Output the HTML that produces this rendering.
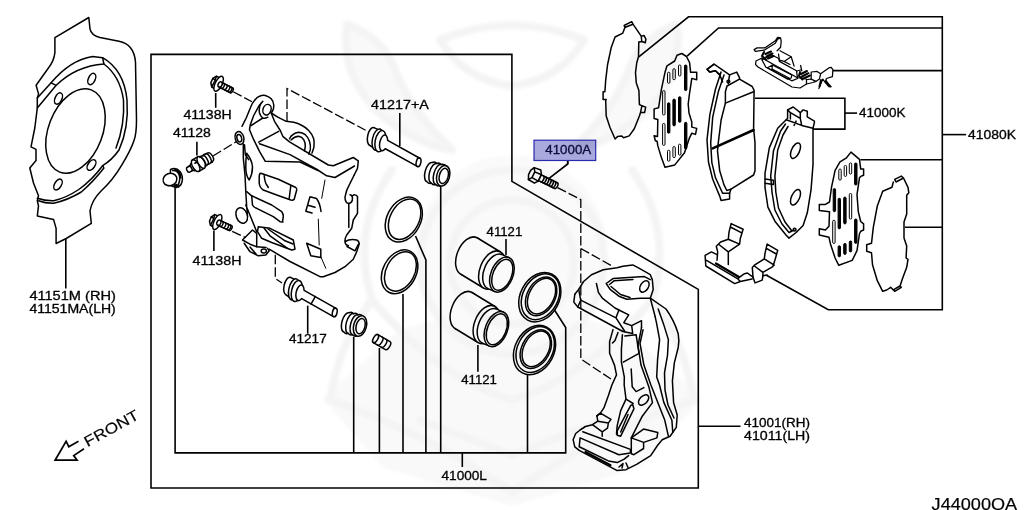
<!DOCTYPE html>
<html>
<head>
<meta charset="utf-8">
<title>Front Brake Caliper Diagram</title>
<style>
html,body{margin:0;padding:0;background:#fff;}
body{width:1024px;height:510px;overflow:hidden;position:relative;}
svg{position:absolute;left:0;top:0;display:block;}
.l{fill:none;stroke:#000;stroke-width:1.6;stroke-linecap:butt;stroke-linejoin:miter;}
.p{fill:none;stroke:#000;stroke-width:1.5;stroke-linecap:round;stroke-linejoin:round;}
.pw{fill:#fff;stroke:#000;stroke-width:1.5;stroke-linecap:round;stroke-linejoin:round;}
.d{fill:none;stroke:#000;stroke-width:1.3;stroke-dasharray:9.5 3;}
.k{fill:none;stroke:#000;stroke-width:2.2;stroke-linecap:butt;}
.k1{fill:none;stroke:#000;stroke-width:1.3;stroke-linecap:butt;}
text{font-family:"Liberation Sans",sans-serif;font-size:12px;fill:#000;stroke:#000;stroke-width:0.3;}
</style>
</head>
<body>
<svg width="1024" height="510" viewBox="0 0 1024 510">
<rect x="0" y="0" width="1024" height="510" fill="#fff"/>

<!-- frame lines -->
<g id="frames" class="l">
<path d="M151 54.4 H511.9 V181.4 L698.3 289.4 V488 H151 Z"/>
<path d="M175.1 186 V452.9 H565.7 V327.5 L553.7 308.7"/>
<path d="M462.3 452.9 V467"/>
<path d="M698.3 426.2 H740.5"/>
<!-- pad kit bracket -->
<path d="M638.8 56.8 L688.5 16.8 H942.3 V309.7 H828.3 L766.5 275.2"/>
<path d="M687.1 56.2 L718.5 28 H942.3"/>
<path d="M832.9 70.6 H942.3"/>
<path d="M860.4 159.7 H942.3"/>
<path d="M904.9 227.3 H942.3"/>
<path d="M942.3 134.6 H966.1"/>
<path d="M755 98.2 H844.9 V129.1 H813"/>
<path d="M844.9 113.1 H857.1"/>
<!-- leaders -->
<path d="M65.8 238.5 V288.4"/>
<path d="M215.7 93 V107.8"/>
<path d="M196.9 141.7 V155.4"/>
<path d="M213.9 230.5 V250.9"/>
<path d="M399.8 113 V146"/>
<path d="M307.7 305.7 V333.6"/>
<path d="M506 239 V255"/>
<path d="M477.9 345 V371.8"/>
<path d="M567.7 157.2 V164 L549.4 178.1"/>
<path d="M440.7 186 V452.9"/>
<path d="M415.5 236 L425.9 260 V452.9"/>
<path d="M403 294 V452.9"/>
<path d="M353.7 337 V452.9"/>
<path d="M379.4 348 V452.9"/>
<path d="M527.5 375 V452.9"/>
</g>
<!-- backing plate 41151M -->
<g id="plate" class="p">
<path d="M88.8 17.5 L54.9 37.6 V52.7 Q54 61 48.6 67.7 L36.1 85.3 L38.6 94.1 L37.3 97.9 V107.9 L34.8 128 L31 146.8 L36 149.3 V160.6 L29.8 168 L33.5 183 L38.5 195.8 L37.3 200.8 L38.5 205.8 L37.3 215.9 L53.6 219.6 L56.1 228.4 V243.5 L66.2 238.5 L91.3 223.4 L90 210.8 Q92 200 101.3 190.8 Q113 180 121.4 165.7 Q131 150 134 140.6 Q136.5 134 136.5 120 L135.5 62 Q134 44 119 41.2 L100 37.5 Q91 35 90 28.8 Z"/>
<path d="M37.3 97.9 L51.1 82.8 Q70 60 92.6 56.4 L102.6 57.7 Q124 70 127 100 Q129 128 119 150 Q112 160 102.6 165.7 Q92 180 78.8 189.5 Q66 198 53.6 200.8 Q45 201 37.3 198.3"/>
<path d="M37.3 107.9 L56.2 85.3 Q76 66 103.9 64 L102.6 57.7 M51.1 82.8 L56.2 85.3"/>
<path d="M103.9 64 Q120 76 123.5 100 Q125 125 116 148"/>
<path d="M103.9 168 Q93 182 81.3 192 Q68 200 53.6 203.3 Q45 203.5 38.6 200.8 M102.6 165.7 L103.9 168"/>
<ellipse cx="75.5" cy="131" rx="27" ry="44" transform="rotate(21 75.5 131)"/>
<ellipse cx="91.8" cy="79" rx="3.4" ry="6" transform="rotate(25 91.8 79)"/>
<ellipse cx="58.5" cy="98.5" rx="3.4" ry="6" transform="rotate(25 58.5 98.5)"/>
<ellipse cx="91.5" cy="165" rx="3.4" ry="6" transform="rotate(35 91.5 165)"/>
<ellipse cx="58" cy="184.5" rx="3.4" ry="6" transform="rotate(30 58 184.5)"/>
</g>
<!-- bolts 41138H -->
<defs>
<g id="bolt">
<path class="pw" d="M-1 -6 L-5.5 -5.6 L-7.6 -2.2 L-7.4 2.6 L-4.8 5.8 L-1 6.4 Z"/>
<path class="p" d="M-5.5 -5.6 L-4.6 -1.6 L-4.8 5.8 M-7.6 -2.2 L-4.6 -1.6"/>
<ellipse class="pw" cx="0" cy="0" rx="3.4" ry="8.2"/>
<path class="pw" d="M1.2 -2.7 L14.5 -2.7 A1.4 2.7 0 0 1 14.5 2.7 L1.2 2.7 A1.4 2.7 0 0 1 1.2 -2.7Z"/>
<path class="p" d="M4.6 -2.7 A1.4 2.7 0 0 1 4.6 2.7 M7.6 -2.7 A1.4 2.7 0 0 1 7.6 2.7 M10.6 -2.7 A1.4 2.7 0 0 1 10.6 2.7 M13 -2.7 A1.4 2.7 0 0 1 13 2.7 M2.2 -2.7 A1.4 2.7 0 0 1 2.2 2.7"/>
</g>
</defs>
<use href="#bolt" transform="translate(218.6 83.8) rotate(27)"/>
<use href="#bolt" transform="translate(217.3 222) rotate(25)"/>
<!-- bleeder screw 41128 -->
<g transform="translate(189.6 169.1) rotate(-30)">
<path class="pw" d="M-1.5 -2.7 H4 V2.7 H-1.5 A1.4 2.7 0 0 1 -1.5 -2.7Z"/>
<path class="p" d="M1 -2.7 A1.4 2.7 0 0 1 1 2.7"/>
<path class="pw" d="M4 -4 H6.5 V4 H4 A1.8 4 0 0 1 4 -4Z"/>
<path class="pw" d="M7 -6.6 H13.5 V6.6 H7 A3.2 6.6 0 0 1 7 -6.6Z"/>
<path class="p" d="M7 -6.6 A3.2 6.6 0 0 1 7 6.6 M7.5 -2.4 H13.5 M9.5 3.2 H13.5"/>
<ellipse class="pw" cx="13.5" cy="0" rx="3.2" ry="6.6"/>
<path class="pw" d="M14.8 -5 Q16.5 -6 18 -5 Q19.8 -6 21.4 -5 Q23 -5.8 24.3 -4.6 A2 4.6 0 0 1 24.3 4.6 Q23 5.8 21.4 5 Q19.8 6 18 5 Q16.5 6 14.8 5 A2.2 5 0 0 0 14.8 -5Z"/>
<path class="p" d="M18 -5 A2.2 5 0 0 1 18 5 M21.4 -5 A2.2 5 0 0 1 21.4 5"/>
</g>
<!-- cap -->
<g class="p">
<path class="pw" d="M170.5 169.5 Q176 167 180 171.5 Q183.5 176 182 182 Q180.5 187.5 175 187 Q171 186.5 170 184Z"/>
<path d="M172.5 170.5 Q178 170 179.5 176 Q180.5 182 177 186.5 M174.5 169 Q180.5 171 181 178"/>
<ellipse class="pw" cx="170" cy="179.5" rx="7" ry="6.2" transform="rotate(-20 170 179.5)"/>
<path d="M176 184.5 L178.5 186.8 M174.5 185.5 L176.5 187.3" style="stroke-width:1.8"/>
</g>
<!-- dashed guides -->
<g class="d">
<path d="M233.2 91.7 L252 101.8"/>
<path d="M213 156 L236.2 141.7"/>
<path d="M232.2 231.3 L245.6 237.5"/>
<path d="M275.3 254.8 V278.5 L282 283"/>
<path d="M287 121.5 V88.5 L368 131.5"/>
<path d="M557.5 187.6 L580.8 199.6 V359 L611 379 M580.8 248.5 L613.5 266.8"/>
</g>
<!-- caliper body -->
<g id="caliper" class="p">
<path d="M242 126.3 L246.2 118 L250.3 108 Q252 103 254.5 100.5 Q257 97 259.5 96.3 Q262.5 95 265.3 95.5 Q269 96.5 271.2 98.8 Q273.5 101.5 273.7 104.7 Q274 108 272.8 110.5 L271.2 113 L277.8 117.2 L286.2 121.3 L293.7 122.2 Q298 123 302 125.5 Q306 127.5 308.7 130.5 Q312.5 134.5 313.7 138.8 Q314.5 143 313.7 148 L312 153"/>
<path d="M262.8 101.3 L258.7 106.3 L253.7 115.5 L250.3 124.7 L249.5 129.7 L253.7 139.7 L259.5 151.3 L265.3 161.3 L300 162 L318 170.5"/>
<ellipse cx="267" cy="109.7" rx="4" ry="5.4" transform="rotate(20 267 109.7)"/>
<path d="M260.8 103.5 Q258.6 108 259.5 113 Q260.5 116.5 262.8 118 Q265 118.8 267.8 117.2 M262.8 118 L251.2 125.5"/>
<path d="M271.2 113 L274.5 121.3 L280.3 130.5 L282.8 136.3 L289.5 141.8 L328.3 165 L333.3 165.8 L353.3 157.5 L358.3 160.8 L357.5 168.3 L354.2 175"/>
<path d="M258.7 142.2 L278.7 131.3"/>
<path d="M259.5 143.8 L290 154.6 L317 169.5 L326.7 175.8 L335 177.5 L354.5 166"/>
<path d="M289.5 138.8 Q291 135.5 292.8 134.7 Q295.5 132.5 298.7 132.2 Q302.5 132.5 305.3 134.7 Q308.5 137.5 309.5 141.3 Q310.8 145.5 310.3 149.7 L308.7 154"/>
<path d="M291 140 Q294.5 136.5 298.7 136.3 Q302 137 303.7 139.7 Q305.5 143 305.3 146.3 L304.5 151"/>
<path d="M354.2 175 L350 183.3 Q346 190 345 197 Q345 203 348.5 203.5 Q352.5 203 352.5 198 Q352 194.8 350 194.8 M352.3 196 Q355 193.5 357.5 196.5 V213.3 L353.3 220 L351.7 228.3 L346.7 235 Q344.5 239 345 242 Q345.5 245.5 348.5 245.8 M345.3 241.5 Q350 238.5 356.7 240 Q359.5 241.5 359.2 244 L356.7 251.7 L353.3 259.2 L345 266.7 L335 272.5 L323.3 276.7 L320 276.7 L290 261.5 L269.2 249.2"/>
<path d="M348.8 203.5 V227.5 M347 246.5 L355 250.8 L358.5 244"/>
<path d="M325 180 L321.7 198.3 M318.3 219.2 L319.2 245 M320.8 256.7 L325.8 268.3" style="stroke-width:1"/>
<path d="M310 196.7 L316.5 198.5 Q320 203 321 211.5 M310 196.7 L305.8 211.3 L312 213 M308 205.3 L315 207.2"/>
<path d="M306.7 243.3 L320.8 249.2 V257.5 L310.8 255.8 Z"/>
<ellipse class="pw" cx="239.5" cy="138" rx="4.3" ry="6.5" transform="rotate(-15 239.5 138)"/>
<ellipse cx="239.3" cy="138.2" rx="2.3" ry="3.8" transform="rotate(-15 239.3 138.2)"/>
<path d="M243.3 144 L243.3 158 L245 175 L245.8 191.7 L246.7 206.7 L247.5 216.7 M245.8 205 L256.7 231.7"/>
<path d="M244.5 144.7 L245.3 154.7 L248.7 159.7"/>
<path d="M246.7 153.3 Q252 160 252.5 167 Q252.5 174 249.2 180 Q246 176 245.8 168 Q245.5 160 246.7 153.3Z"/>
<path d="M260.8 173.3 L278.3 179.2 L295.8 187.5 Q297 188.5 296.7 190 L294.2 199.2 Q293 200.5 290.8 200 L276.7 195 L263.3 190 Q259.5 187.5 259.2 183.3 V176.7 Q259.3 173.3 260.8 173.3Z"/>
<path d="M264.2 175.8 Q264.5 180 265.8 183.3 L268.3 187.5 M290.8 185.8 L289.2 198.3"/>
<path d="M246.7 191.7 L251.7 195.8 L271.7 205 L281.7 211.7 Q283.5 214 283.3 216.7 L282.5 221.7 M251.7 196 L252.5 205 Q253.5 207.5 256.7 208.3 L273.3 216.7 L280 221.7 L283 222"/>
<path d="M258.3 226.7 L270 228.3 L293.3 240 L295 249.2 L291.7 250 L271.7 242.5 L261.7 238.3 L257.5 231.7 Z"/>
<path d="M264 228 L270 235.8 L287.5 248.3 M268 229 L285 240.8 L293 244"/>
<ellipse class="pw" cx="241.7" cy="215.5" rx="5.5" ry="8" transform="rotate(-20 241.7 215.5)"/>
<path d="M242.5 240 L252.5 230 L256.7 233.3 V246.7 L250 244.2 Z"/>
<path d="M244.2 243.3 L250 251.7 L258.3 255.8 L265.8 255 L269.2 250.8 L267.5 248.3 M250 247 L256 254 M256.7 246.7 L266 247.5"/>
<ellipse cx="263.8" cy="251" rx="2.6" ry="2"/>
</g>
<!-- slide pins -->
<defs>
<g id="pin">
<ellipse class="pw" cx="-10" cy="0" rx="4" ry="9" transform="rotate(-17 -10 0)"/>
<path d="M-12.2 -8.7 L-4.5 -9.2 L-0.5 9.3 L-7.8 8.7Z" fill="#fff" stroke="none"/>
<path class="p" d="M-12.2 -8.7 L-5 -9.2 M-7.8 8.7 L-1.5 9.4"/>
<ellipse class="pw" cx="-3.2" cy="0" rx="5.2" ry="10.8" transform="rotate(-17 -3.2 0)"/>
<ellipse class="pw" cx="0" cy="0" rx="5.2" ry="10.8" transform="rotate(-17 0 0)"/>
<ellipse class="pw" cx="3.6" cy="0" rx="3.8" ry="8" transform="rotate(-17 3.6 0)"/>
<path d="M4.5 -4.2 L42.7 -4.2 L44.5 4.2 L6 4.2Z" fill="#fff" stroke="none"/>
<ellipse class="pw" cx="43.6" cy="0" rx="2.3" ry="4.4" transform="rotate(-17 43.6 0)"/>
<path class="p" d="M6 -4.2 L42.7 -4.2 M8 4.2 L44.5 4.2"/>
</g>
<g id="boot">
<path class="pw" d="M-14 -10 Q-11.5 -12 -9.5 -10.2 Q-7 -12 -5 -10.3 Q-2.5 -11.8 0 -10.5 L0 10.5 Q-2.5 11.8 -5 10.3 Q-7 12 -9.5 10.2 Q-11.5 12 -14 10 A4.6 10 0 0 1 -14 -10Z"/>
<path class="p" d="M-9.5 -10.2 A4.6 10.2 0 0 0 -9.5 10.2 M-5 -10.3 A4.6 10.3 0 0 0 -5 10.3"/>
<ellipse class="pw" cx="0" cy="0" rx="6.4" ry="10.5"/>
<ellipse class="p" cx="0.6" cy="0" rx="4.4" ry="7.8"/>
</g>
</defs>
<use href="#pin" transform="translate(380.4 141.2) rotate(29)"/>
<use href="#pin" transform="translate(296.8 291) rotate(29.5)"/>
<path class="p" d="M0 -4.4 V4.4" transform="translate(313.2 300.3) rotate(29.5)"/>
<use href="#boot" transform="translate(443.2 175.8) rotate(15)"/>
<use href="#boot" transform="translate(360 326) rotate(15)"/>
<!-- bushing -->
<g transform="translate(375.6 338.6) rotate(30)">
<path class="pw" d="M0 -4.6 H14 A2.2 4.6 0 0 1 14 4.6 H0 A2.2 4.6 0 0 1 0 -4.6Z"/>
<path class="p" d="M0 -4.6 A2.2 4.6 0 0 1 0 4.6 M5 -4.6 A2.2 4.6 0 0 1 5 4.6 M9.5 -4.6 A2.2 4.6 0 0 1 9.5 4.6"/>
</g>
<!-- rings -->
<g class="p">
<ellipse cx="403.8" cy="219.6" rx="23.8" ry="16.8" transform="rotate(-62 403.8 219.6)"/>
<ellipse cx="404.6" cy="219.2" rx="21.6" ry="14.4" transform="rotate(-62 404.6 219.2)"/>
<ellipse cx="399.6" cy="271.8" rx="23.2" ry="16.6" transform="rotate(-62 399.6 271.8)"/>
<ellipse cx="400.4" cy="271.4" rx="21" ry="14.2" transform="rotate(-62 400.4 271.4)"/>
</g>
<!-- pistons -->
<g id="pistons">
<ellipse class="pw" cx="469.0" cy="256.0" rx="12" ry="20" transform="rotate(22 469.0 256.0)"/>
<path d="M477.5 238.0 L500.5 252.0 L483.5 288.0 L460.5 274.0Z" fill="#fff" stroke="none"/>
<path class="p" d="M477.5 238.0 L500.5 252.0 M460.5 274.0 L483.5 288.0"/>
<ellipse class="pw" cx="492.0" cy="270.0" rx="12" ry="20" transform="rotate(22 492.0 270.0)"/>
<ellipse class="pw" cx="495.0" cy="271.6" rx="11" ry="18.4" transform="rotate(22 495.0 271.6)"/>
<path d="M502.1 254.6 L509.0 257.6 L494.8 291.6 L487.9 288.6Z" fill="#fff" stroke="none"/>
<path class="p" d="M502.1 254.6 L509.0 257.6 M487.9 288.6 L494.8 291.6"/>
<ellipse class="pw" cx="501.9" cy="274.6" rx="11" ry="18.4" transform="rotate(22 501.9 274.6)"/>
<ellipse class="p" cx="502.3" cy="274.8" rx="9.3" ry="16.3" transform="rotate(22 502.3 274.8)"/>
<ellipse class="pw" cx="463.5" cy="310.5" rx="12" ry="20" transform="rotate(22 463.5 310.5)"/>
<path d="M472.0 292.5 L495.0 306.5 L478.0 342.5 L455.0 328.5Z" fill="#fff" stroke="none"/>
<path class="p" d="M472.0 292.5 L495.0 306.5 M455.0 328.5 L478.0 342.5"/>
<ellipse class="pw" cx="486.5" cy="324.5" rx="12" ry="20" transform="rotate(22 486.5 324.5)"/>
<ellipse class="pw" cx="489.5" cy="326.1" rx="11" ry="18.4" transform="rotate(22 489.5 326.1)"/>
<path d="M496.6 309.1 L503.5 312.1 L489.3 346.1 L482.4 343.1Z" fill="#fff" stroke="none"/>
<path class="p" d="M496.6 309.1 L503.5 312.1 M482.4 343.1 L489.3 346.1"/>
<ellipse class="pw" cx="496.4" cy="329.1" rx="11" ry="18.4" transform="rotate(22 496.4 329.1)"/>
<ellipse class="p" cx="496.8" cy="329.3" rx="9.3" ry="16.3" transform="rotate(22 496.8 329.3)"/>
</g>

<!-- seals -->
<g id="seals">
<ellipse class="pw" cx="539.8" cy="297.2" rx="26" ry="19.5" transform="rotate(-62 539.8 297.2)"/>
<ellipse class="p" cx="540.5" cy="296.7" rx="24.2" ry="17.6" transform="rotate(-62 540.5 296.7)"/>
<ellipse class="p" cx="541.1" cy="296.4" rx="20.6" ry="14" transform="rotate(-62 541.1 296.4)"/>
<ellipse class="p" cx="541.5" cy="296.1" rx="19" ry="12.4" transform="rotate(-62 541.5 296.1)"/>
<ellipse class="pw" cx="534.5" cy="350.0" rx="26" ry="19.5" transform="rotate(-62 534.5 350.0)"/>
<ellipse class="p" cx="535.2" cy="349.5" rx="24.2" ry="17.6" transform="rotate(-62 535.2 349.5)"/>
<ellipse class="p" cx="535.8" cy="349.2" rx="20.6" ry="14" transform="rotate(-62 535.8 349.2)"/>
<ellipse class="p" cx="536.2" cy="348.9" rx="19" ry="12.4" transform="rotate(-62 536.2 348.9)"/>
</g>
<!-- bolt 41000A -->
<g transform="translate(536.7 176.2) rotate(26)">
<path class="pw" d="M-6 -6.6 L1 -7.3 L3.6 -3.4 L3.6 3.8 L1 7.3 L-6 6.6 L-8 2.2 L-8 -2.6Z"/>
<path class="p" d="M-6 -6.6 L-3.6 -3 L-3.6 3.4 L-6 6.6 M-3.6 -3 L3.6 -3.4 M-3.6 3.4 L3.6 3.8"/>
<path class="pw" d="M3.6 -3.2 L21.5 -3.2 A1.6 3.2 0 0 1 21.5 3.2 L3.6 3.2Z"/>
<path class="p" style="stroke-width:1.6" d="M6 -3.2 A1.6 3.2 0 0 1 6 3.2 M8.6 -3.2 A1.6 3.2 0 0 1 8.6 3.2 M11.2 -3.2 A1.6 3.2 0 0 1 11.2 3.2 M13.8 -3.2 A1.6 3.2 0 0 1 13.8 3.2 M16.4 -3.2 A1.6 3.2 0 0 1 16.4 3.2 M19 -3.2 A1.6 3.2 0 0 1 19 3.2"/>
</g>
<!-- torque member / bracket -->
<g id="bracket" class="p">
<path d="M574.8 294.3 L578.7 289.4 L583.6 281.5 L591.5 274.7 L603.3 269.8 L617 267.8 L622.9 266.2 L632.7 264.9 L638.5 267.8 L650.3 274.7 L652.3 279.6 L653.2 289.4 L650.3 298.2 L666 309 Q674 320 678.2 333.7 Q679.5 341 678.2 347.5 L674.3 363.1 L672.4 380.8 L673.6 402.6 L677.2 415 L676.3 427.4 L670.1 436.2 L662.2 439.7 L657.8 445 L650.7 455.6 L636.6 464.4 L626 469.7 L617.2 470.6 L579.2 450.3 L574.8 446.8 L573.1 439.7 L575.7 433.5 L580.1 430 L585.4 426.5 L592.5 424.7 L597.8 421.2 L596.9 415.9"/>
<path d="M574.8 294.3 L573.8 302.1 L577.8 307 L622.9 331.5 L632.7 333.5 L631.7 325.6 L641.5 320.7 L641.5 327.6"/>
<path d="M578.7 289.4 L580.7 300.2 L577.8 307 M580.7 300.2 L616 317.8 L624.8 331.5 M616 317.8 L618.9 310 L628.7 314.9 L623.8 322.7 L631.7 325.6"/>
<path d="M596.4 283.5 L598.4 292.3 L602.3 298.2 L615 308 L618.9 310"/>
<path d="M606.2 283.5 L613 278.6 L628.7 277.6 L644.4 276.6 L650.3 279.6 M606.2 283.5 L610.1 289.4 L618.9 296.2 L626.8 299.2 L640.5 298.2 L650.3 298.2"/>
<path d="M609.5 284.5 L614 280.8 L633 279.6 M611 286.5 L620.5 294.5 L630 297.5"/>
<ellipse cx="644.4" cy="286.4" rx="4" ry="6.3" transform="rotate(32 644.4 286.4)"/>
<path d="M613 329.6 L609.6 341.6 L609.6 353.3 L614.5 365.1 L616.5 374.9 L611.9 385 L608.4 395.6 L603.9 407.9 L600.4 413.2 L596.9 415.9"/>
<path d="M618 332.5 L615 340.4 L612.5 343 M622.4 334.7 L621.4 349.4 L621.4 362.2 L624.3 376.9 L624.2 385 L626 399.1 L620.7 410.6 L617.2 425.6 L616.5 434"/>
<path d="M624.8 336 L636.1 334.7 L639 353.3 L623.3 362.2 M631.2 369 L632.2 386.7 L636.1 391.6 L643.9 387.6"/>
<path d="M643 329.8 L640 343.5 L643.9 365.1 L650.8 384.7 L657.8 402.6 L664.8 420.3 L668.4 436.2"/>
<path d="M641.5 327.6 L638 345.5 L641 365.1 L648.8 386.7 L652.5 402.6 L641.9 416.8 L634.8 430.9 L631.3 437.9"/>
<path d="M655.2 316.8 L656.7 323.9 L659.6 339.6 L657.6 359.2 L656.7 376.9 L659.5 385 L663.9 402.6 L671.9 420.3 L672.8 432.6"/>
<path d="M658.2 309 L663.5 323.9 L668.4 339.6 L667.5 355.3 L664.5 372.9 L665 390 L668 405 L674 418"/>
<path d="M650.3 298.2 L655.2 316.8 M626 399.1 L633.1 403.5"/>
<ellipse cx="643.6" cy="400" rx="6.2" ry="3.8" transform="rotate(-45 643.6 400)"/>
<path d="M630.8 405.3 L632.8 404.8 L633.9 408.8 L620.7 436.2 L617.2 435.3 L617.2 430.9 L626 414.1 Z"/>
<path d="M628 414.5 L620.7 432"/>
<path d="M596.9 415.9 L600.4 413.2 L611 419.4 L608.4 422.9 L597.8 421.2 M608.4 422.9 L607.5 428.2 L602.2 431.8 L592.5 424.7 M602.2 431.8 V436.2"/>
<path d="M582.8 431.8 L630.4 449.4 V452.9 L618.9 454.7 L580.1 437.9 M579.2 446.8 L608.4 460.9 L617.2 462.6 L624.2 459.1 L628.6 455.6 M580.1 437.9 L579.2 446.8"/>
<path d="M585.5 452 L610.5 465.3" style="stroke-width:2.2"/>
<path d="M631.3 437.9 L643.6 442.4 V448.5 L633.9 454.7 L631.3 453.8 Z M631.3 437.9 L643.6 429.1 L657.8 432.6 L656.9 437.9 L643.6 442.4"/>
<path d="M619 467 L623 463.5 L622 468 M626 463 L628 467.5"/>
</g>
<!-- shim 1 -->
<g id="shims" class="p">
<path d="M624.1 25.5 L631.7 21.7 L633 24.2 L625.3 27.3 Z M625 27.3 L622.8 33.1 L615.1 37 L611.3 47.2 L607.5 65 L605.7 80.3 L604.9 91.8 L603.1 91.8 V99.5 H606.2 L605.7 100.7 L606.2 116 L610 127.5 L615.1 139 L617.7 136.4 L621.5 135.9 L623.6 137.7 L629.2 135.9 L634.3 128.8 L639.4 116 L640.6 112.2 L644.6 112.6 L645.7 107.1 L641.9 105.8 L640.6 112.2 M641.9 105.8 L639.4 104.6 L638.9 90.5 L636.3 82.9 L635.5 72.7 L636.8 62.5 L638.5 56.8 L638.8 42.1 L641.8 41.5 L645.3 42.7 L645.9 39.2 L644.1 35.6 L641.2 36.2 L641.8 41.5 M641.2 36.2 L633 24.2"/>
<!-- shim 2 -->
<path class="pw" d="M681.8 53.5 L686.5 56.5 L689.6 62.6 L690.6 72.3 H696.7 V79.7 L691.8 78.4 L689.4 94.3 L688.2 104 L689 113 L691.8 122 V127.1 L696.7 128.4 L695.5 134.4 L691.8 133.2 L689.4 138.1 L684.5 152.7 L674.8 164.9 L665 167.3 L661.4 157.6 L657.7 145.4 L657.2 141.5 L655.3 140.5 L654.1 135.7 L657.5 136.5 L657.8 119.5 L654.1 118.6 V108.9 L658.6 107.7 L661.4 89.4 L665 72.3 L667 65.8 L674.7 61 L677 55.3 Z"/>
<!-- shim 3 -->
<path class="pw" d="M851 152.1 L859.5 159.4 L860.7 169.1 H863.6 V175.2 L860.7 176.4 L859.5 177.7 L857 194.7 L858.3 211.7 L860.7 221.5 L863.6 223.9 V230 L860.7 231.2 L859.5 233.7 L857 250.7 L852.2 260.4 L838.8 265.3 L835.1 258 L830.3 243.4 L829 237.3 L819.3 234.9 V228.8 L825.4 230 L829 226.3 L829.5 211.7 L819.3 210.5 V204.4 H825.4 L829.5 202 L831.5 187.4 L835.1 170.3 L840 161.8 L846.1 158.2 Z"/>
<!-- shim 4 -->
<path d="M894.7 179.3 L901.3 176.1 L903.5 178 L896 182 Z M893.3 182 L892 187.3 L882.7 191.3 L877.3 206 L873.3 227.3 L871.5 243.3 L866.7 244.7 V251.3 L871.5 252.7 L872.5 264.7 L877.3 280.7 L882.7 291.3 L886.7 290 L890.7 287.3 L893.3 290 L894.7 291.3 L901.3 287.3 L900 286 L902.7 278 L906.7 267.3 L908 259.3 L906.1 258 L906.7 246 L904 238 V222 L906.7 214 V195.3 L908.8 192.7 L908 187.3 L903.5 178 M894.7 291.3 L893.6 289.6 L900 286"/>
</g>
<g id="slots" stroke="#000" stroke-width="1">
<rect x="667.5" y="72.3" width="2.4" height="11.0" rx="1.1" fill="#fff"/>
<rect x="672.9" y="68.7" width="2.4" height="11.0" rx="1.1" fill="#fff"/>
<rect x="678.5" y="65.0" width="2.4" height="11.0" rx="1.1" fill="#fff"/>
<rect x="684.5" y="65.0" width="2.4" height="25.6" rx="1.1" fill="#000"/>
<rect x="662.6" y="90.6" width="2.4" height="24.4" rx="1.1" fill="#fff"/>
<rect x="667.5" y="102.8" width="2.4" height="30.4" rx="1.1" fill="#000"/>
<rect x="672.9" y="99.1" width="2.4" height="26.8" rx="1.1" fill="#000"/>
<rect x="678.5" y="96.7" width="2.4" height="25.6" rx="1.1" fill="#000"/>
<rect x="662.6" y="123.5" width="2.4" height="21.9" rx="1.1" fill="#fff"/>
<rect x="667.5" y="150.3" width="2.4" height="10.9" rx="1.1" fill="#fff"/>
<rect x="672.9" y="146.6" width="2.4" height="11.0" rx="1.1" fill="#fff"/>
<rect x="678.5" y="144.2" width="2.4" height="10.9" rx="1.1" fill="#fff"/>
<rect x="684.5" y="122.3" width="2.4" height="26.7" rx="1.1" fill="#000"/>
<rect x="838.8" y="169.1" width="2.4" height="11.0" rx="1.1" fill="#fff"/>
<rect x="844.2" y="165.5" width="2.4" height="10.9" rx="1.1" fill="#fff"/>
<rect x="849.3" y="163.0" width="2.4" height="11.0" rx="1.1" fill="#fff"/>
<rect x="854.6" y="163.0" width="2.4" height="22.0" rx="1.1" fill="#000"/>
<rect x="833.2" y="188.6" width="2.4" height="23.1" rx="1.1" fill="#000"/>
<rect x="838.1" y="198.3" width="2.4" height="30.5" rx="1.1" fill="#000"/>
<rect x="843.7" y="197.1" width="2.4" height="26.8" rx="1.1" fill="#000"/>
<rect x="849.3" y="193.5" width="2.4" height="25.5" rx="1.1" fill="#fff"/>
<rect x="832.7" y="220.3" width="2.4" height="23.1" rx="1.1" fill="#fff"/>
<rect x="838.1" y="245.8" width="2.4" height="11.0" rx="1.1" fill="#000"/>
<rect x="843.7" y="243.4" width="2.4" height="11.0" rx="1.1" fill="#000"/>
<rect x="849.3" y="241.0" width="2.4" height="10.9" rx="1.1" fill="#000"/>
<rect x="854.6" y="219.0" width="2.4" height="24.4" rx="1.1" fill="#000"/>
</g>
<!-- pad 1 -->
<g id="pads" class="p">
<path class="pw" d="M721.1 72.1 L715.5 89 L709.9 114.4 L707 139.8 L708.5 162.3 L712.7 179.2 L719.7 196.1 L721.1 200.4 L729.6 199 L729.6 193.3 L731 189.1 L753.6 175 L755 170.8 V142.6 L753.6 128.5 L754.1 90.4 L752.2 86.5 L739.5 79.1 L739.5 77.7 L736.7 72.1 L729.6 74.9 L714.1 64.2 L707 69.3 L709.9 72.1 L715.5 70.7 L719.7 74.9 Z"/>
<path d="M714.1 64.2 L707 69.3 L709.9 72.1 L715.5 70.7 L719.7 74.9 L722.6 82 M729.6 74.9 L728.2 83.4 M739.5 79.1 L727 86 L725.4 91.8 V103.1 L721.1 120 L718.3 142.6 L717.5 151 L719.7 170.8 L724 184.9 L726.8 190.5 L731 189.1"/>
<path d="M724 74.9 L718.3 91.8 L712.7 117.2 L710.7 142.6 L711.8 162.3 L715.5 177.8 L722.6 193.3 L729.6 193.3"/>
<path d="M725.4 103.1 L753.6 91.8"/>
<circle cx="728.4" cy="81.6" r="1.4"/>
<path d="M712.7 148.4 L753.6 130" style="stroke-width:2.6"/>
<!-- pad 2 -->
<path class="pw" d="M787.6 109.9 L793.2 107 L800.3 112.7 L803.1 109.9 L807.3 111.3 V116.9 L814.4 121.1 V122.6 L813 128.2 V164.8 L811 190.2 L807.3 212.8 L803.1 225.5 L796.1 232.5 L789 238.1 L786.2 235.3 L774.9 221.2 L767.9 207.1 L765 187.4 V173.3 L769.3 147.9 L777.7 128.2 L786.2 119.7 L787.6 118.3 Z"/>
<path d="M787.6 109.9 L790.4 112.7 L800.3 118.3 L801.7 125.4 M800.3 112.7 V118.3 M790.4 112.7 V119 M796.1 121.1 L794.1 125.4 M801.7 125.4 L813 128.2 M786.2 119.7 L801.7 125.4"/>
<path d="M785.5 124 L780.6 131 L773.5 150.7 L770.7 176.1 L772.1 193 L774.9 210 L782 224 L789 232.5 L794 230"/>
<path d="M788 126.5 L783 135 L777.7 150 L774.9 176.1 L775.8 192 L778.5 208 L785 222 L791.5 230.5"/>
<path d="M765 178.9 L773.5 180.3 V184.6 L765 183.2"/>
<ellipse cx="795.5" cy="150.7" rx="4" ry="8.3" transform="rotate(25 795.5 150.7)"/>
<ellipse cx="795.5" cy="197.3" rx="4" ry="8.3" transform="rotate(25 795.5 197.3)"/>
<circle cx="794.6" cy="229.7" r="1.4"/>
</g>
<!-- hardware kit clips -->
<g id="hardware" class="p" style="stroke-width:1.25">
<path d="M756 61 L755.5 64.5 L758 67 L792 87 L800 88 L806.5 84 L806.5 79.5 M756 61 L762 58 L797 77.5 L806 79"/>
<path d="M767.6 67.8 L772.4 65 L791.8 75 L791.2 78 L787.6 79.2 Z M772.4 65 L772 69 L789 78"/>
<path d="M761.8 59.6 L771.8 55 L778.8 58.5 L779.4 61.4 L796.5 70.8 L797.6 78.5 L791.8 80.8 L765.9 67.3 Z"/>
<path d="M797 71 L800.5 70 M806.5 79.5 L811.2 79.1 M806.5 84 L813 82.5 L815.9 81.4"/>
<path d="M754.1 49.6 L755.3 51.4 L764.1 50.2 L775.3 43.2 L777.6 39.1 L780.6 37.9 L781.2 41.4 L780.6 47.3 L777.1 50.8 M754.1 49.6 L757.1 47.9 L764.7 47.9 L775.3 40.8 L777.6 37.3 L780.6 37.9"/>
<path d="M780 50.8 L791.2 56.7 L784.1 61.4 L779.4 60.2 L778.5 54 M791.2 56.7 L794.1 66.1 M784.1 61.4 L790 64.5"/>
<path d="M800.6 65.5 L801.8 70.8 M811.2 72 L817.1 71.4 L820.6 73.8 L819.4 79.1 L815.9 81.4 L811.2 79.1 Z"/>
<path d="M820.6 73.8 L828.8 67.9 L831.2 67.3 L832.9 69.6 L832.4 76.7 L826.5 78.5 L825.3 81.4 L831.2 86.7 L828.8 86.7 L824.5 81.5 L822.9 79.1 L819.4 87.3 L818.8 88.5"/>
</g>
<g class="k" style="stroke-width:2;stroke-linecap:round">
<path d="M765.5 54 L771 51.5 M766.5 56.5 L772.5 53.5 M768 58.5 L773.5 56 M764 52 L762 56 L766 59.5"/>
<path d="M801 74 L807 71 M802 76.5 L808.5 73.2 M803.5 78.5 L810 75.5 M800 72 L799 76 L802.5 79.5"/>
<path d="M821 80 L819.5 86.5 M826 81 L830 86.5"/>
</g>
<!-- abutment clip -->
<g id="abutment" class="p">
<path d="M731.1 223.6 L743.1 229.3 L740.3 238.5 L739.6 244.1 L728.3 251.9 V264.5 M731.1 223.6 L729 232.1 L728.3 239.2 L720.6 242 L716.3 246.2 L717.7 251.9 L717 260.3 M730.4 227 L741.7 232.8 M728.3 239.2 L739.6 244.1 M719.5 245 L728.3 251.9"/>
<path d="M705.1 255.4 L711.4 251.9 L717 254.7 M705.1 255.4 L705.8 266 L734.7 283.6 L740.3 281.5 M706.5 260.3 L737.5 278.6 L744.5 273.7 L747.4 273 L753 277.2 L755.1 282.9 L762.2 280.1 L762.9 275.8 L767.1 275.1 M737.5 278.6 L740.3 281.5 L752 279"/>
<path d="M716 263.5 L739 277" style="stroke-width:2.4"/>
<path d="M767.1 244.1 L777.7 250.4 L774.9 260.3 L772.8 266.7 L762.9 272.3 V275.8 M767.1 244.1 L765 253.3 L764.3 258.9 L754.4 265.2 L752.3 267.4 L753 277.2 M766.4 248.3 L776.3 254 M764.3 258.9 L774.2 265.2 M754.4 266 L762.9 272.3"/>
</g>
<!-- front arrow -->
<path d="M78.5 441.2 L68.8 446.7 L66.1 441.2 L55.1 460.2 L77.1 460.2 L73.7 455.6 L84 448.8" fill="none" stroke="#000" stroke-width="1.7" stroke-linejoin="miter"/>
<path class="l" d="M567.7 157.2 V164"/>
<!--PARTS-->
<!-- labels -->
<rect x="534" y="140.2" width="61.7" height="20.3" fill="#a9a9dd" stroke="#2a2ab0" stroke-width="1.2"/>
<text x="545.3" y="154" textLength="45.9" lengthAdjust="spacingAndGlyphs" style="fill:#0c0c40;stroke:#0c0c40">41000A</text>
<g id="labels" style="filter:grayscale(1)">
<text x="183.4" y="119.2" textLength="48.3" lengthAdjust="spacingAndGlyphs">41138H</text>
<text x="172.9" y="137.3" textLength="37.9" lengthAdjust="spacingAndGlyphs">41128</text>
<text x="192.6" y="264.7" textLength="48.9" lengthAdjust="spacingAndGlyphs">41138H</text>
<text x="371.1" y="109" textLength="57.7" lengthAdjust="spacingAndGlyphs">41217+A</text>
<text x="289" y="343.2" textLength="37.7" lengthAdjust="spacingAndGlyphs">41217</text>
<text x="486.6" y="235.5" textLength="35.7" lengthAdjust="spacingAndGlyphs">41121</text>
<text x="461.3" y="384.4" textLength="35.6" lengthAdjust="spacingAndGlyphs">41121</text>
<text x="441.5" y="479.6" textLength="45.4" lengthAdjust="spacingAndGlyphs">41000L</text>
<text x="859.1" y="117" textLength="46.4" lengthAdjust="spacingAndGlyphs">41000K</text>
<text x="968.1" y="139.2" textLength="47.9" lengthAdjust="spacingAndGlyphs">41080K</text>
<text x="744" y="426.5" textLength="66" lengthAdjust="spacingAndGlyphs">41001(RH)</text>
<text x="744" y="439.9" textLength="66" lengthAdjust="spacingAndGlyphs">41011(LH)</text>
<text x="29.4" y="300" textLength="86.4" lengthAdjust="spacingAndGlyphs">41151M (RH)</text>
<text x="29.4" y="313.2" textLength="86.4" lengthAdjust="spacingAndGlyphs">41151MA(LH)</text>
<text x="931.6" y="510" textLength="85.6" lengthAdjust="spacingAndGlyphs" style="font-size:17px;stroke-width:0.2">J44000QA</text>
<text x="0" y="0" transform="translate(87.6 447.2) rotate(-28.8)" textLength="60" lengthAdjust="spacingAndGlyphs" style="font-size:15px;stroke-width:0.15">FRONT</text>
</g>
<g id="watermark" fill="none" stroke="#f4f4f4" stroke-width="8" stroke-linecap="round" stroke-linejoin="round" style="filter:blur(1.5px);mix-blend-mode:multiply">
<path d="M322 398 L400 330 L512 300 L624 330 L702 398 L640 468 L512 506 L384 468 Z" fill="#f9f9f9" stroke="none"/>
<circle cx="512" cy="250" r="95" fill="#fafafa" stroke="none"/>
<path d="M347 24 Q340 80 385 118 Q420 145 452 150 Q410 110 395 70 Q385 40 347 24Z" fill="#f9f9f9"/>
<path d="M677 24 Q684 80 639 118 Q604 145 572 150 Q614 110 629 70 Q639 40 677 24Z" fill="#f9f9f9"/>
<path d="M440 40 Q512 10 584 40 Q560 80 512 86 Q464 80 440 40Z"/>
<circle cx="512" cy="262" r="92"/>
<circle cx="512" cy="262" r="62"/>
<path d="M392 170 Q350 230 372 300 Q340 340 330 400 Q420 430 512 492 Q604 430 694 400 Q684 340 652 300 Q674 230 632 170"/>
<path d="M372 300 Q440 380 512 400 Q584 380 652 300"/>
<path d="M420 420 L512 455 L604 420"/>
</g>
</svg>
</body>
</html>
